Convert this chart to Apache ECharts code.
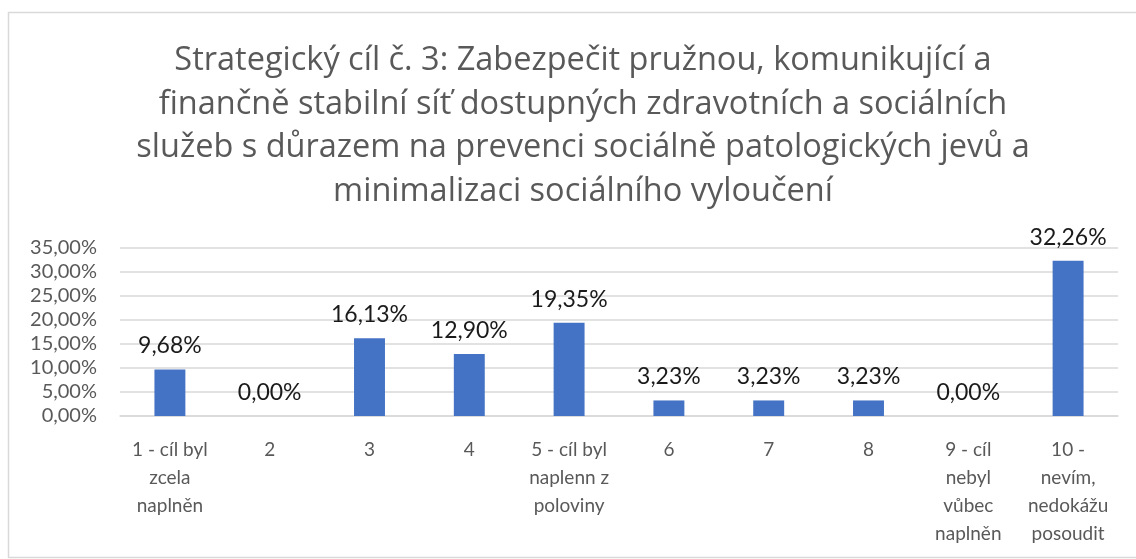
<!DOCTYPE html>
<html><head><meta charset="utf-8">
<script src="https://cdn.jsdelivr.net/npm/echarts@6/dist/echarts.min.js"></script>
<style>html,body{margin:0;padding:0;background:#fff}#c{width:1136px;height:559px}</style>
</head><body><div id="c"></div>
<script>
const titleText = "Strategický cíl č. 3: Zabezpečit pružnou, komunikující a\nfinančně stabilní síť dostupných zdravotních a sociálních\nslužeb s důrazem na prevenci sociálně patologických jevů a\nminimalizaci sociálního vyloučení";
const categories = ["1 - cíl byl\nzcela\nnaplněn","2","3","4","5 - cíl byl\nnaplenn z\npoloviny","6","7","8","9 - cíl\nnebyl\nvůbec\nnaplněn","10 -\nnevím,\nnedokážu\nposoudit"];
const values = [9.68, 0, 16.13, 12.90, 19.35, 3.23, 3.23, 3.23, 0, 32.26];
const yMin = 0, yMax = 35, yStep = 5;

const fmt = v => v.toFixed(2).replace('.', ',') + '%';
const chart = echarts.init(document.getElementById('c'), null, {renderer:'canvas'});
chart.setOption({
  animation: false,
  backgroundColor: '#fff',
  graphic: [{type:'rect', shape:{x:8.5, y:12.5, width:1200, height:545}, style:{fill:'none', stroke:'#d9d9d9', lineWidth:1.5}}],
  title: {
    text: titleText, left: 578, top: 34, textAlign: 'center',
    textStyle: {fontFamily:'Open Sans', fontSize:32.5, fontWeight:'normal', color:'#595959', lineHeight:43.6}
  },
  grid: {left:120, right:18, top:247.5, bottom:143, containLabel:false},
  xAxis: {
    type:'category', data: categories,
    axisLine:{lineStyle:{color:'#d9d9d9', width:1.5}}, axisTick:{show:false},
    axisLabel:{interval:0, color:'#595959', fontFamily:'Lato', fontSize:19, lineHeight:28, margin:20}
  },
  yAxis: {
    type:'value', min:yMin, max:yMax, interval:yStep,
    axisLine:{show:false}, axisTick:{show:false},
    splitLine:{lineStyle:{color:'#d9d9d9', width:1.5}},
    axisLabel:{formatter: fmt, color:'#595959', fontFamily:'Lato', fontSize:20, margin:23}
  },
  series: [{
    type:'bar', data: values, barWidth:'31%',
    itemStyle:{color:'#4472C4'},
    label:{show:true, position:'top', distance:12, formatter: p => fmt(p.value), color:'#1a1a1a', fontFamily:'Lato', fontSize:23}
  }]
});
</script></body></html>
